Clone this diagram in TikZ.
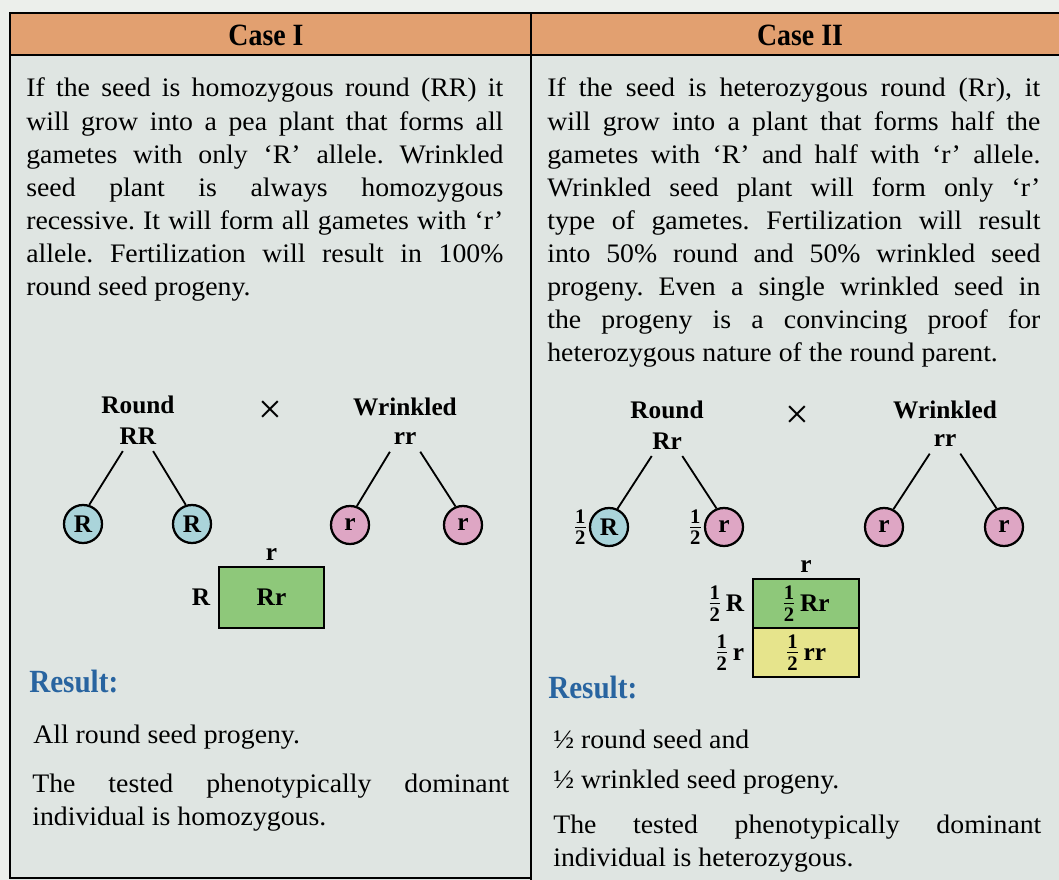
\documentclass[tikz,border=0pt]{standalone}
\usepackage{amsmath}
\usepackage{fontspec}
\setmainfont{Liberation Serif}[FakeStretch=1.04]
\newfontfamily\headfont{Liberation Serif}[FakeStretch=0.9]
\newfontfamily\labfamily{Liberation Serif}
\usetikzlibrary{positioning}
\definecolor{pagecol}{RGB}{236,239,235}
\definecolor{tablecol}{RGB}{223,229,226}
\definecolor{headcol}{RGB}{226,160,112}
\definecolor{domcol}{RGB}{170,212,218}
\definecolor{reccol}{RGB}{222,166,196}
\definecolor{hetcell}{RGB}{142,200,122}
\definecolor{homcell}{RGB}{230,228,140}
\definecolor{rescol}{RGB}{40,100,160}
\newcommand{\bodyfont}{\fontsize{19}{23.5}\selectfont\frenchspacing
  \tolerance=10000 \hyphenpenalty=10000 }
\newcommand{\labfont}{\labfamily\fontsize{18}{21}\selectfont\bfseries}
\newcommand{\half}{{\fontsize{21}{21}\selectfont$\frac{\textbf{1}}{\textbf{2}}$}}
\tikzset{
  rule/.style={line width=2pt},
  para/.style={text width=11.925cm, align=justify, inner sep=0pt, anchor=base west,
               font=\bodyfont},
  headtxt/.style={font=\headfont\bfseries\fontsize{22}{24}\selectfont, inner sep=1pt},
  restxt/.style={font=\headfont\bfseries\fontsize{23}{25}\selectfont, text=rescol,
                 inner sep=0pt, anchor=base west},
  lab/.style={font=\labfont, inner sep=1pt},
  cross/.style={font=\labfamily\fontsize{30}{30}\selectfont, inner sep=0pt},
  gam/.style={circle, draw, line width=1.6pt, minimum size=0.95cm, inner sep=0pt,
              font=\labfont},
  domgam/.style={gam, fill=domcol},
  recgam/.style={gam, fill=reccol},
  tie/.style={line width=1.3pt, shorten <=1.5mm},
  cellA/.style={draw, line width=1.6pt, outer sep=0pt, minimum width=2.625cm,
                minimum height=1.525cm, font=\labfont},
  cellB/.style={cellA, minimum width=2.65cm, minimum height=1.225cm},
}
\begin{document}
\begin{tikzpicture}[x=0.025cm, y=0.025cm]
  \useasboundingbox (0,0) rectangle (1059,-880);
  \fill[pagecol] (0,0) rectangle (1059,-880);
  \fill[tablecol] (10,-13) rectangle (1059,-880);
  \fill[headcol] (10,-13) rectangle (1059,-55);
  \draw[rule] (1059,-13) -- (10,-13) -- (10,-878) -- (531,-878);
  \draw[rule] (10,-55) -- (1059,-55);
  \draw[rule] (531,-13) -- (531,-880);

  \node[headtxt] (caseA) at (266,-35) {Case I};
  \node[headtxt] (caseB) at (800,-35) {Case II};

  \node[para] (txtA) at (26,-97) {If the seed is homozygous round (RR) it\linebreak
    will grow into a pea plant that forms all\linebreak
    gametes with only `R' allele. Wrinkled\linebreak
    seed plant is always homozygous\linebreak
    recessive. It will form all gametes with `r'\linebreak
    allele. Fertilization will result in 100\%\linebreak
    round seed progeny.};
  \node[para, text width=12.325cm] (txtB) at (547,-97) {If the seed is heterozygous round (Rr), it\linebreak
    will grow into a plant that forms half the\linebreak
    gametes with `R' and half with `r' allele.\linebreak
    Wrinkled seed plant will form only `r'\linebreak
    type of gametes. Fertilization will result\linebreak
    into 50\% round and 50\% wrinkled seed\linebreak
    progeny. Even a single wrinkled seed in\linebreak
    the progeny is a convincing proof for\linebreak
    heterozygous nature of the round parent.};

  % Case I cross
  \node[lab] (rndA) at (138,-405) {Round};
  \node[lab] (gtA1) at (138,-436) {RR};
  \node[cross] (xA) at (270,-412) {×};
  \node[lab] (wrkA) at (405,-407) {Wrinkled};
  \node[lab] (gtA2) at (405,-439) {rr};
  \node[domgam] (gA1) at (83,-524) {R};
  \node[domgam] (gA2) at (192,-524) {R};
  \node[recgam] (gA3) at (350,-525) {r};
  \node[recgam] (gA4) at (463,-525) {r};
  \draw[tie] ([xshift=-3mm]gtA1.south) -- (gA1.72);
  \draw[tie] ([xshift=3mm]gtA1.south) -- (gA2.108);
  \draw[tie] ([xshift=-3mm]gtA2.south) -- (gA3.70);
  \draw[tie] ([xshift=3mm]gtA2.south) -- (gA4.112);
  \node[cellA, fill=hetcell] (pA) at (271.5,-597.5) {Rr};
  \node[lab, above=1.2mm of pA] (pAc) {r};
  \node[lab, left=1.8mm of pA] (pAr) {R};

  % Case II cross
  \node[lab] (rndB) at (667,-410) {Round};
  \node[lab] (gtB1) at (667,-441) {Rr};
  \node[cross] (xB) at (797,-417) {×};
  \node[lab] (wrkB) at (945,-410) {Wrinkled};
  \node[lab] (gtB2) at (945,-441) {rr};
  \node[domgam] (gB1) at (609,-527) {R};
  \node[recgam] (gB2) at (724,-527) {r};
  \node[recgam] (gB3) at (884,-527) {r};
  \node[recgam] (gB4) at (1004,-527) {r};
  \node[lab, left=0pt of gB1] (hB1) {\half};
  \node[lab, left=0pt of gB2] (hB2) {\half};
  \draw[tie] ([xshift=-3mm]gtB1.south) -- (gB1.65);
  \draw[tie] ([xshift=3mm]gtB1.south) -- (gB2.112);
  \draw[tie] ([xshift=-3mm]gtB2.south) -- (gB3.62);
  \draw[tie] ([xshift=3mm]gtB2.south) -- (gB4.112);
  \node[cellB, fill=hetcell] (pB1) at (806,-603.5) {\half\,Rr};
  \node[cellB, fill=homcell, below=0pt of pB1] (pB2) {\half\,rr};
  \node[lab, above=1.2mm of pB1] (pBc) {r};
  \node[lab, left=1.8mm of pB1] (pBr1) {\half\,R};
  \node[lab, left=1.8mm of pB2] (pBr2) {\half\,r};

  % results
  \node[restxt] (resA) at (29,-692) {Result:};
  \node[para] (outA1) at (33,-743) {All round seed progeny.};
  \node[para] (outA2) at (32,-792) {The tested phenotypically dominant\linebreak
    individual is homozygous.};
  \node[restxt] (resB) at (548,-698) {Result:};
  \node[para, text width=12.2cm] (outB1) at (553,-748) {½ round seed and};
  \node[para, text width=12.2cm] (outB2) at (553,-788) {½ wrinkled seed progeny.};
  \node[para, text width=12.2cm] (outB3) at (553,-833) {The tested phenotypically dominant\linebreak
    individual is heterozygous.};
\end{tikzpicture}
\end{document}
